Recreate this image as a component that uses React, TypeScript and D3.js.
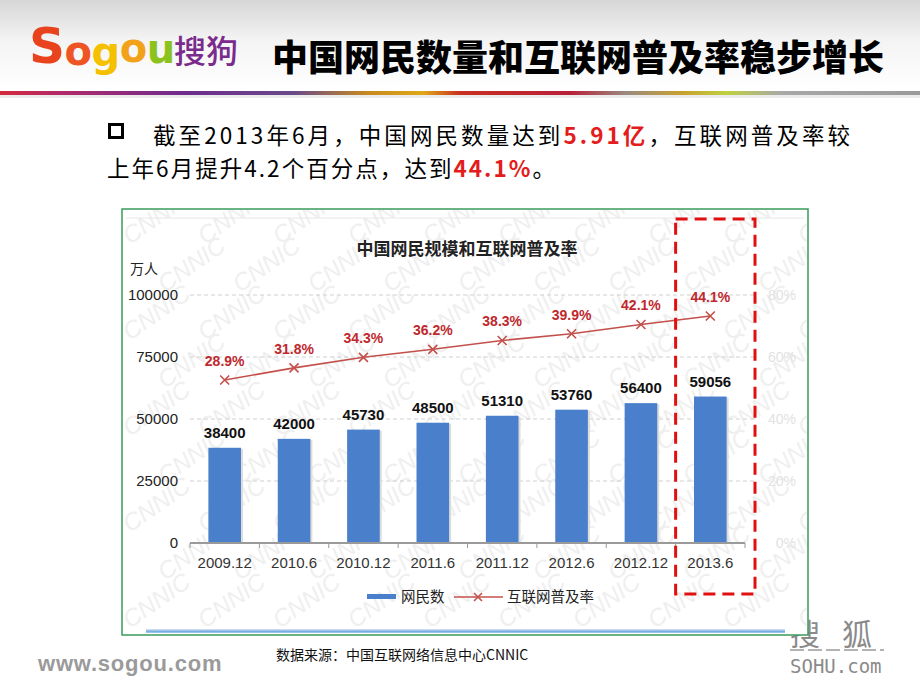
import React from "react";
import * as d3 from "d3";

const categories = ["2009.12", "2010.6", "2010.12", "2011.6", "2011.12", "2012.6", "2012.12", "2013.6"];
const netizens = [38400, 42000, 45730, 48500, 51310, 53760, 56400, 59056];
const penetration = [28.9, 31.8, 34.3, 36.2, 38.3, 39.9, 42.1, 44.1];
const yTicks = [0, 25000, 50000, 75000, 100000];
const ghostTicks = ["80%", "60%", "40%", "20%", "0%"];
const legendLabels = ["网民数", "互联网普及率"];

const FONT_CN = '"Noto Sans CJK SC", "Noto Sans", sans-serif';
const FONT_EN = '"Liberation Sans", Arial, sans-serif';

const BAR = "#4a80cb";
const LINE = "#c4504c";
const LABEL_RED = "#c0282d";

export default function App() {
  const x = d3.scaleBand<string>().domain(categories).range([190, 745]).padding(0);
  const y = d3.scaleLinear().domain([0, 100000]).range([543, 295]);
  const y2 = d3.scaleLinear().domain([-9.8, 49.1]).range([543, 295]);
  const bw = x.bandwidth() * 0.47;
  const cx = (c: string) => (x(c) as number) + x.bandwidth() / 2;

  const line = d3
    .line<number>()
    .x((_, i) => cx(categories[i]))
    .y((d) => y2(d));

  const last = categories[categories.length - 1];
  const hlLeft = x(last) as number;
  const hlRight = hlLeft + x.bandwidth() + 10;

  // decorative watermark positions
  const marks: [number, number][] = [];
  for (let r = 0; r < 9; r++) {
    for (let c = 0; c < 10; c++) {
      marks.push([130 + c * 75 + (r % 2) * 35, 245 + r * 48]);
    }
  }

  const gradStops = [
    [0, "#d42a3c"],
    [0.07, "#b02a6a"],
    [0.2, "#6e2c8e"],
    [0.32, "#6a4a88"],
    [0.4, "#c88a20"],
    [0.46, "#e0a818"],
    [0.5, "#c83020"],
    [0.62, "#b8203a"],
    [0.68, "#9a8a80"],
    [0.74, "#c8a030"],
    [0.79, "#c0d040"],
    [0.85, "#a8a8a8"],
    [1, "#9a9a9a"],
  ];

  return (
    <svg
      width={920}
      height={690}
      style={{ position: "absolute", left: 0, top: 0, background: "#fff" }}
    >
      <defs>
        <linearGradient id="hdr" x1="0" y1="0" x2="0" y2="1">
          <stop offset="0" stopColor="#d6d6d6" />
          <stop offset="0.45" stopColor="#f4f4f4" />
          <stop offset="1" stopColor="#ffffff" />
        </linearGradient>
        <linearGradient id="band" x1="0" y1="0" x2="1" y2="0">
          {gradStops.map(([o, c], i) => (
            <stop key={i} offset={o as number} stopColor={c as string} />
          ))}
        </linearGradient>
        <clipPath id="chartClip">
          <rect x={123} y={210} width={684} height={424} />
        </clipPath>
      </defs>

      {/* header */}
      <rect x={0} y={0} width={920} height={90} fill="url(#hdr)" />
      <rect x={0} y={91} width={920} height={4} fill="url(#band)" />
      <rect x={0} y={95} width={920} height={3} fill="#ececec" />

      {/* logo */}
      <text x={29} y={63} fontFamily='"DejaVu Sans", sans-serif' fontWeight={700} fontSize={40} letterSpacing={-0.5}>
        <tspan fill="#e8431c" fontSize={50}>S</tspan>
        <tspan fill="#ee5424" dy={2}>o</tspan>
        <tspan fill="#f5c000" dy={1}>g</tspan>
        <tspan fill="#f2a21a" dy={-4}>o</tspan>
        <tspan fill="#8cc21e" dy={1}>u</tspan>
      </text>
      <text x={174} y={63} fontSize={32} fill="#7a2b8c" fontFamily={FONT_CN} fontWeight={500}>
        搜狗
      </text>

      {/* title */}
      <text x={272} y={71} fontSize={36} fontWeight={900} fill="#000" fontFamily={FONT_CN}>
        中国网民数量和互联网普及率稳步增长
      </text>

      {/* body text */}
      <rect x={109.5} y={124.5} width={13} height={13} fill="none" stroke="#000" strokeWidth={3} />
      <g fontFamily={FONT_CN} fontSize={22.5} fill="#000">
        <text x={153} y={144} textLength={697} lengthAdjust="spacing">
          截至2013年6月，中国网民数量达到
          <tspan fill="#e41c1c" fontWeight={700}>5.91亿</tspan>
          ，互联网普及率较
        </text>
        <text x={107} y={177} textLength={448} lengthAdjust="spacing">
          上年6月提升4.2个百分点，达到
          <tspan fill="#e41c1c" fontWeight={700}>44.1%</tspan>。
        </text>
      </g>

      {/* sohu logo */}
      <g fill="#8a8a8a">
        <text x={790} y={645} fontSize={30} fontFamily={FONT_CN} letterSpacing={22}>搜狐</text>
        <line x1={790} x2={884} y1={650} y2={650} stroke="#9a9a9a" strokeWidth={1.5} strokeDasharray="14,4" />
        <text x={790} y={673} fontSize={19} fontFamily='"DejaVu Sans Mono", monospace'>SOHU.com</text>
      </g>

      {/* chart frame */}
      <rect x={122} y={209} width={686} height={426} fill="#fff" stroke="#3a9a5a" strokeWidth={1.5} />
      <g clipPath="url(#chartClip)">
        {marks.map(([mx, my], i) => (
          <text
            key={i}
            x={mx}
            y={my}
            fontSize={24}
            fontFamily={FONT_EN}
            fontStyle="italic"
            fill="#efefef"
            transform={`rotate(-35 ${mx} ${my})`}
          >
            CNNIC
          </text>
        ))}
      </g>
      <line x1={126} x2={804} y1={218} y2={218} stroke="#e6e6e6" strokeWidth={1} />

      {/* chart title */}
      <text x={467} y={255} textAnchor="middle" fontSize={17} fontWeight={700} fill="#222" fontFamily={FONT_CN}>
        中国网民规模和互联网普及率
      </text>
      <text x={144} y={274} textAnchor="middle" fontSize={14} fill="#222" fontFamily={FONT_CN}>
        万人
      </text>

      {/* grid + y axis */}
      {yTicks.map((t) => (
        <g key={t}>
          {t > 0 && (
            <line x1={190} x2={757} y1={y(t)} y2={y(t)} stroke="#d0d0d0" strokeDasharray="4,3" />
          )}
          <text x={178} y={y(t) + 5} textAnchor="end" fontSize={15} fill="#222" fontFamily={FONT_EN}>
            {t}
          </text>
        </g>
      ))}
      {ghostTicks.map((g, i) => (
        <text
          key={g}
          x={796}
          y={y(yTicks[yTicks.length - 1 - i]) + 5}
          textAnchor="end"
          fontSize={14}
          fill="#e2e2e2"
          fontFamily={FONT_EN}
        >
          {g}
        </text>
      ))}

      {/* bars */}
      {netizens.map((v, i) => {
        const c = categories[i];
        return (
          <g key={c}>
            <rect x={cx(c) - bw / 2 + 2} y={y(v) + 1} width={bw} height={y(0) - y(v) - 1} fill="#dcdcdc" />
            <rect x={cx(c) - bw / 2} y={y(v)} width={bw} height={y(0) - y(v)} fill={BAR} />
            <text
              x={cx(c)}
              y={y(v) - 10}
              textAnchor="middle"
              fontSize={15}
              fontWeight={700}
              fill="#111"
              fontFamily={FONT_EN}
            >
              {v}
            </text>
          </g>
        );
      })}

      {/* x axis */}
      <line x1={190} x2={745} y1={y(0)} y2={y(0)} stroke="#9a9a9a" strokeWidth={2} />
      {categories.map((c, i) => (
        <g key={c}>
          <line
            x1={x(c) as number}
            x2={x(c) as number}
            y1={y(0)}
            y2={y(0) + 5}
            stroke="#9a9a9a"
            strokeWidth={1}
          />
          {i === categories.length - 1 && (
            <line x1={745} x2={745} y1={y(0)} y2={y(0) + 5} stroke="#9a9a9a" />
          )}
          <text x={cx(c)} y={568} textAnchor="middle" fontSize={15} fill="#333" fontFamily={FONT_EN}>
            {c}
          </text>
        </g>
      ))}

      {/* line */}
      <path d={line(penetration) || ""} fill="none" stroke={LINE} strokeWidth={1.6} />
      {penetration.map((p, i) => {
        const px = cx(categories[i]);
        const py = y2(p);
        return (
          <g key={i}>
            <path
              d={`M${px - 4.5},${py - 4.5}L${px + 4.5},${py + 4.5}M${px - 4.5},${py + 4.5}L${px + 4.5},${py - 4.5}`}
              stroke={LINE}
              strokeWidth={1.6}
            />
            <text
              x={px}
              y={py - 14}
              textAnchor="middle"
              fontSize={14}
              fontWeight={700}
              fill={LABEL_RED}
              fontFamily={FONT_EN}
            >
              {p.toFixed(1)}%
            </text>
          </g>
        );
      })}

      {/* legend */}
      <rect x={367} y={594} width={29} height={5} fill={BAR} />
      <text x={401} y={602} fontSize={14.5} fill="#222" fontFamily={FONT_CN}>
        {legendLabels[0]}
      </text>
      <line x1={454} x2={503} y1={597} y2={597} stroke={LINE} strokeWidth={1.6} />
      <path d="M474,593L482,601M474,601L482,593" stroke={LINE} strokeWidth={1.6} />
      <text x={507} y={602} fontSize={14.5} fill="#222" fontFamily={FONT_CN}>
        {legendLabels[1]}
      </text>

      {/* highlight box */}
      <rect
        x={hlLeft}
        y={219}
        width={hlRight - hlLeft}
        height={375}
        fill="none"
        stroke="#e01010"
        strokeWidth={3}
        strokeDasharray="12,7"
      />

      {/* bottom blue line */}
      <line x1={146} x2={785} y1={629.5} y2={629.5} stroke="#c8ddf2" strokeWidth={1} />
      <line x1={146} x2={785} y1={631.5} y2={631.5} stroke="#7aaee0" strokeWidth={2.5} />

      {/* footer */}
      <text x={38} y={671} fontSize={22} fontWeight={700} fill="#9a9a9a" fontFamily={FONT_EN} letterSpacing={0.8}>
        www.sogou.com
      </text>
      <text x={276} y={660} fontSize={14} fill="#111" fontFamily={FONT_CN}>
        数据来源：中国互联网络信息中心CNNIC
      </text>
    </svg>
  );
}
